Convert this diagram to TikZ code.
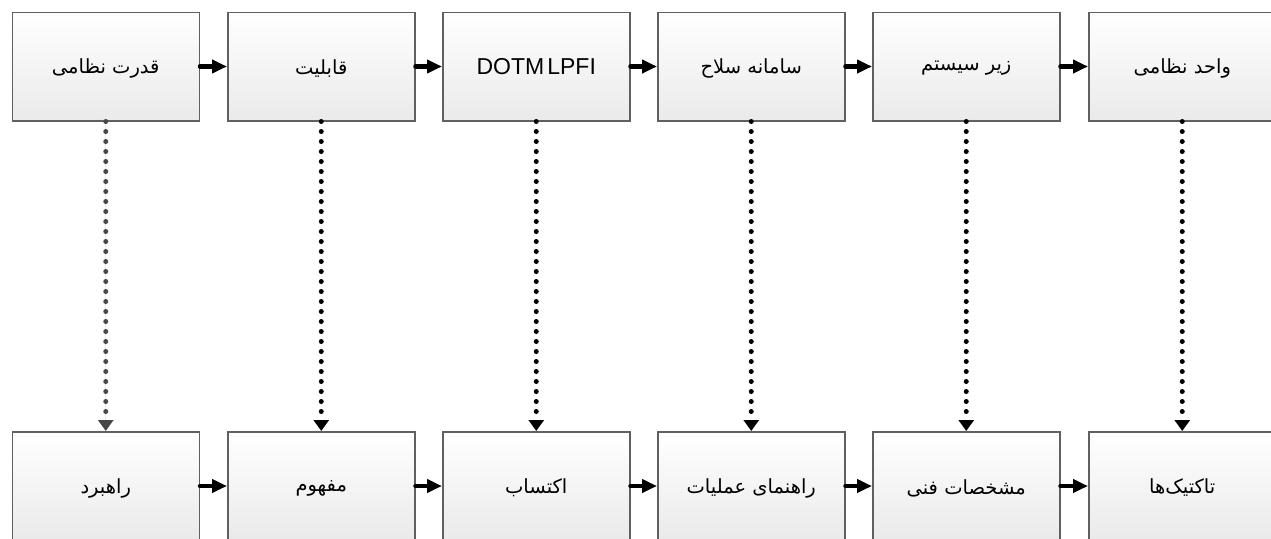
\documentclass[tikz,border=0pt]{standalone}
\usepackage{fontspec}
\setmainfont{Liberation Sans}
\newfontfamily\arabicfont[Script=Arabic]{DejaVu Sans}
\TeXXeTstate=1
\usetikzlibrary{arrows.meta}
\definecolor{boxgray}{HTML}{606060}
\definecolor{boxfill}{HTML}{EAEAEA}
\definecolor{firstdot}{HTML}{474747}
\newcommand{\fa}[1]{{\arabicfont\fontsize{19.5}{23}\selectfont\beginR #1\endR}}
\begin{document}
\begin{tikzpicture}[x=1pt,y=-1pt,
  box/.style={draw=boxgray, line width=1.5pt, top color=white, bottom color=boxfill,
    minimum width=187pt, minimum height=108.5pt, inner sep=0pt, anchor=north west},
  flow/.style={line width=4.5pt, line cap=round, -{Triangle[length=15pt,width=13pt]}},
  dots/.style={line width=5pt, line cap=round, dash pattern=on 0pt off 10pt,
    -{Triangle[length=11pt,width=15pt]}}]
\useasboundingbox (0,0) rectangle (1271,538);
\clip (0,0) rectangle (1271,538);
% top row
\node[box] (t1) at (11.5,11.5) {};
\node[box] (t2) at (227,11.5) {};
\node[box] (t3) at (442,11.5) {};
\node[box] (t4) at (657,11.5) {};
\node[box] (t5) at (872,11.5) {};
\node[box] (t6) at (1088,11.5) {};
% bottom row
\node[box] (b1) at (11.5,431) {};
\node[box] (b2) at (227,431) {};
\node[box] (b3) at (442,431) {};
\node[box] (b4) at (657,431) {};
\node[box] (b5) at (872,431) {};
\node[box] (b6) at (1088,431) {};
% labels
\node (lt1) at ([yshift=-2pt]t1.center) {\fa{قدرت نظامی}};
\node (lt2) at ([yshift=-2pt]t2.center) {\fa{قابلیت}};
\node (lt3) at (t3.center) {\fontsize{23}{27}\selectfont DOTM\hspace{3pt}LPFI};
\node (lt4) at ([yshift=-2pt]t4.center) {\fa{سامانه سلاح}};
\node (lt5) at ([yshift=-2pt]t5.center) {\fa{زیر سیستم}};
\node (lt6) at ([yshift=-2pt]t6.center) {\fa{واحد نظامی}};
\node (lb1) at ([yshift=-2pt]b1.center) {\fa{راهبرد}};
\node (lb2) at ([yshift=-2pt]b2.center) {\fa{مفهوم}};
\node (lb3) at ([yshift=-2pt]b3.center) {\fa{اکتساب}};
\node (lb4) at ([yshift=-2pt]b4.center) {\fa{راهنمای عملیات}};
\node (lb5) at ([yshift=-2pt]b5.center) {\fa{مشخصات فنی}};
\node (lb6) at ([yshift=-2pt]b6.center) {\fa{تاکتیک‌ها}};
% horizontal arrows
\foreach \a/\b in {t1/t2,t2/t3,t3/t4,t4/t5,t5/t6,b1/b2,b2/b3,b3/b4,b4/b5,b5/b6}
  \draw[flow] (\a.east) -- (\b.west);
% vertical dotted arrows
\draw[dots, draw=firstdot, fill=firstdot] (t1.south) -- (b1.north);
\foreach \i in {2,...,6}
  \draw[dots] (t\i.south) -- (b\i.north);
\end{tikzpicture}
\end{document}
